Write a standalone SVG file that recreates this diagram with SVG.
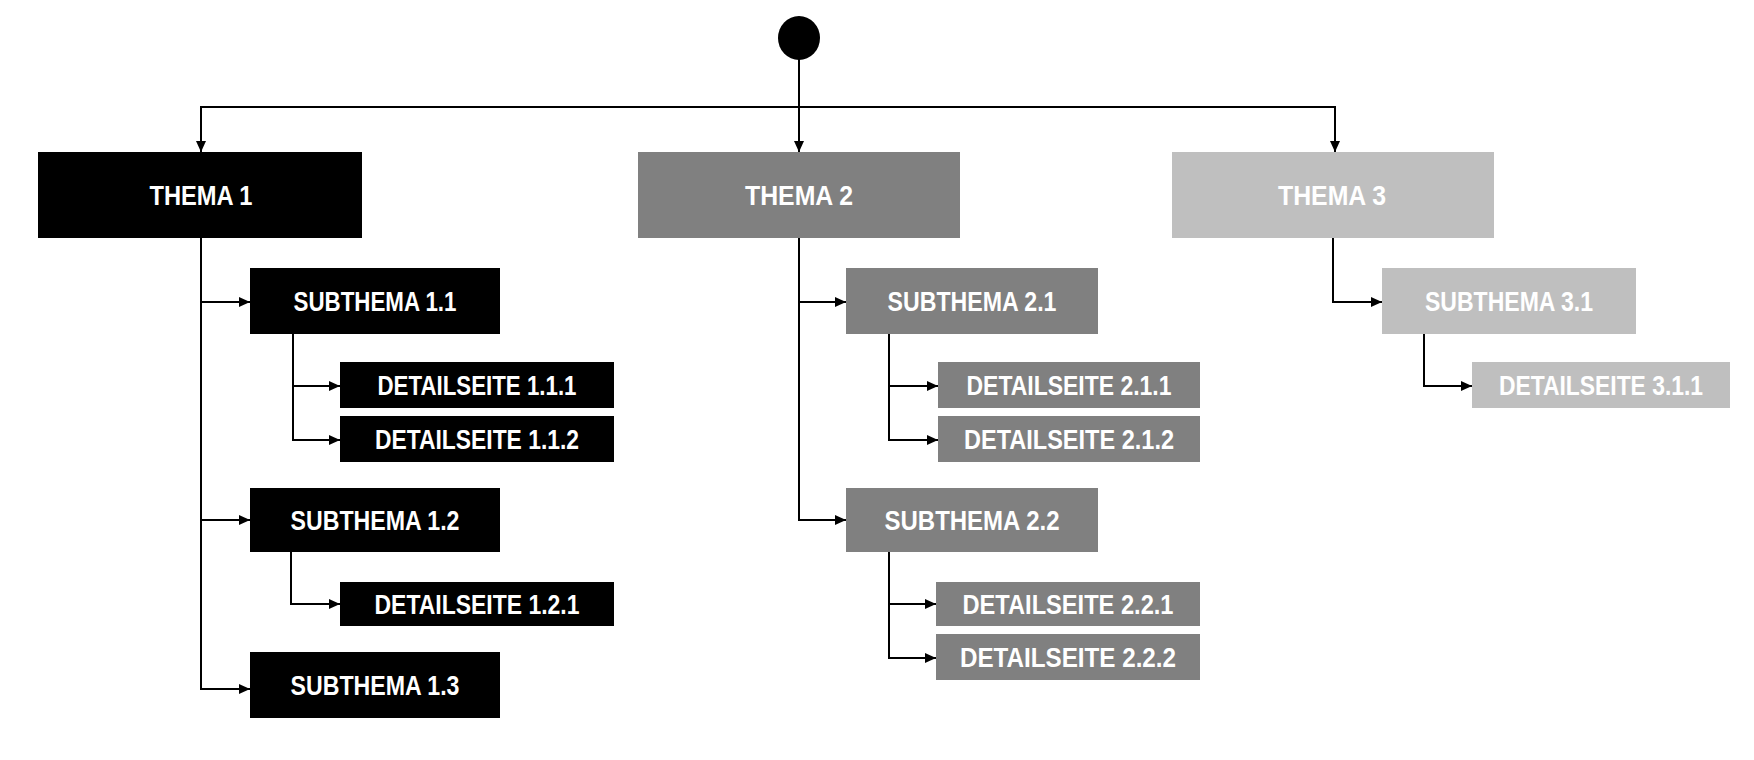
<svg xmlns="http://www.w3.org/2000/svg" width="1754" height="760" viewBox="0 0 1754 760">
<style>
.t{font-family:"Liberation Sans",Arial,sans-serif;font-weight:bold;font-size:27px;fill:#fff;text-anchor:middle}
.c{fill:none;stroke:#000;stroke-width:2}
.k{fill:#000}.g{fill:#808080}.l{fill:#bfbfbf}
</style>
<defs>
<marker id="a" markerUnits="userSpaceOnUse" markerWidth="11" markerHeight="10" refX="11" refY="5" orient="auto">
<path d="M0,0 L11,5 L0,10 z" fill="#000"/>
</marker>
</defs>
<rect width="1754" height="760" fill="#fff"/>
<g id="connectors">
<path class="c" d="M799,58 V152" marker-end="url(#a)"/>
<path class="c" d="M799,107 H201 V152" marker-end="url(#a)"/>
<path class="c" d="M799,107 H1335 V152" marker-end="url(#a)"/>
<path class="c" d="M201,238 V689 H250" marker-end="url(#a)"/>
<path class="c" d="M201,302 H250" marker-end="url(#a)"/>
<path class="c" d="M201,520 H250" marker-end="url(#a)"/>
<path class="c" d="M293,334 V440 H340" marker-end="url(#a)"/>
<path class="c" d="M293,386 H340" marker-end="url(#a)"/>
<path class="c" d="M291,552 V604 H340" marker-end="url(#a)"/>
<path class="c" d="M799,238 V520 H846" marker-end="url(#a)"/>
<path class="c" d="M799,302 H846" marker-end="url(#a)"/>
<path class="c" d="M889,334 V440 H938" marker-end="url(#a)"/>
<path class="c" d="M889,386 H938" marker-end="url(#a)"/>
<path class="c" d="M889,552 V658 H936" marker-end="url(#a)"/>
<path class="c" d="M889,604 H936" marker-end="url(#a)"/>
<path class="c" d="M1333,238 V302 H1382" marker-end="url(#a)"/>
<path class="c" d="M1424,334 V386 H1472" marker-end="url(#a)"/>
</g>
<g id="start"><ellipse cx="799" cy="38" rx="21" ry="22" fill="#000"/></g>
<g id="thema1"><rect class="k" x="38" y="152" width="324" height="86"/><text class="t" x="201" y="205" textLength="103" lengthAdjust="spacingAndGlyphs">THEMA 1</text></g>
<g id="thema2"><rect class="g" x="638" y="152" width="322" height="86"/><text class="t" x="799" y="205" textLength="108" lengthAdjust="spacingAndGlyphs">THEMA 2</text></g>
<g id="thema3"><rect class="l" x="1172" y="152" width="322" height="86"/><text class="t" x="1332" y="205" textLength="108" lengthAdjust="spacingAndGlyphs">THEMA 3</text></g>
<g id="sub11"><rect class="k" x="250" y="268" width="250" height="66"/><text class="t" x="375" y="311" textLength="163" lengthAdjust="spacingAndGlyphs">SUBTHEMA 1.1</text></g>
<g id="det111"><rect class="k" x="340" y="362" width="274" height="46"/><text class="t" x="477" y="395" textLength="199" lengthAdjust="spacingAndGlyphs">DETAILSEITE 1.1.1</text></g>
<g id="det112"><rect class="k" x="340" y="416" width="274" height="46"/><text class="t" x="477" y="449" textLength="204" lengthAdjust="spacingAndGlyphs">DETAILSEITE 1.1.2</text></g>
<g id="sub12"><rect class="k" x="250" y="488" width="250" height="64"/><text class="t" x="375" y="530" textLength="169" lengthAdjust="spacingAndGlyphs">SUBTHEMA 1.2</text></g>
<g id="det121"><rect class="k" x="340" y="582" width="274" height="44"/><text class="t" x="477" y="614" textLength="205" lengthAdjust="spacingAndGlyphs">DETAILSEITE 1.2.1</text></g>
<g id="sub13"><rect class="k" x="250" y="652" width="250" height="66"/><text class="t" x="375" y="695" textLength="169" lengthAdjust="spacingAndGlyphs">SUBTHEMA 1.3</text></g>
<g id="sub21"><rect class="g" x="846" y="268" width="252" height="66"/><text class="t" x="972" y="311" textLength="169" lengthAdjust="spacingAndGlyphs">SUBTHEMA 2.1</text></g>
<g id="det211"><rect class="g" x="938" y="362" width="262" height="46"/><text class="t" x="1069" y="395" textLength="205" lengthAdjust="spacingAndGlyphs">DETAILSEITE 2.1.1</text></g>
<g id="det212"><rect class="g" x="938" y="416" width="262" height="46"/><text class="t" x="1069" y="449" textLength="210" lengthAdjust="spacingAndGlyphs">DETAILSEITE 2.1.2</text></g>
<g id="sub22"><rect class="g" x="846" y="488" width="252" height="64"/><text class="t" x="972" y="530" textLength="175" lengthAdjust="spacingAndGlyphs">SUBTHEMA 2.2</text></g>
<g id="det221"><rect class="g" x="936" y="582" width="264" height="44"/><text class="t" x="1068" y="614" textLength="211" lengthAdjust="spacingAndGlyphs">DETAILSEITE 2.2.1</text></g>
<g id="det222"><rect class="g" x="936" y="634" width="264" height="46"/><text class="t" x="1068" y="667" textLength="216" lengthAdjust="spacingAndGlyphs">DETAILSEITE 2.2.2</text></g>
<g id="sub31"><rect class="l" x="1382" y="268" width="254" height="66"/><text class="t" x="1509" y="311" textLength="168" lengthAdjust="spacingAndGlyphs">SUBTHEMA 3.1</text></g>
<g id="det311"><rect class="l" x="1472" y="362" width="258" height="46"/><text class="t" x="1601" y="395" textLength="204" lengthAdjust="spacingAndGlyphs">DETAILSEITE 3.1.1</text></g>
</svg>
